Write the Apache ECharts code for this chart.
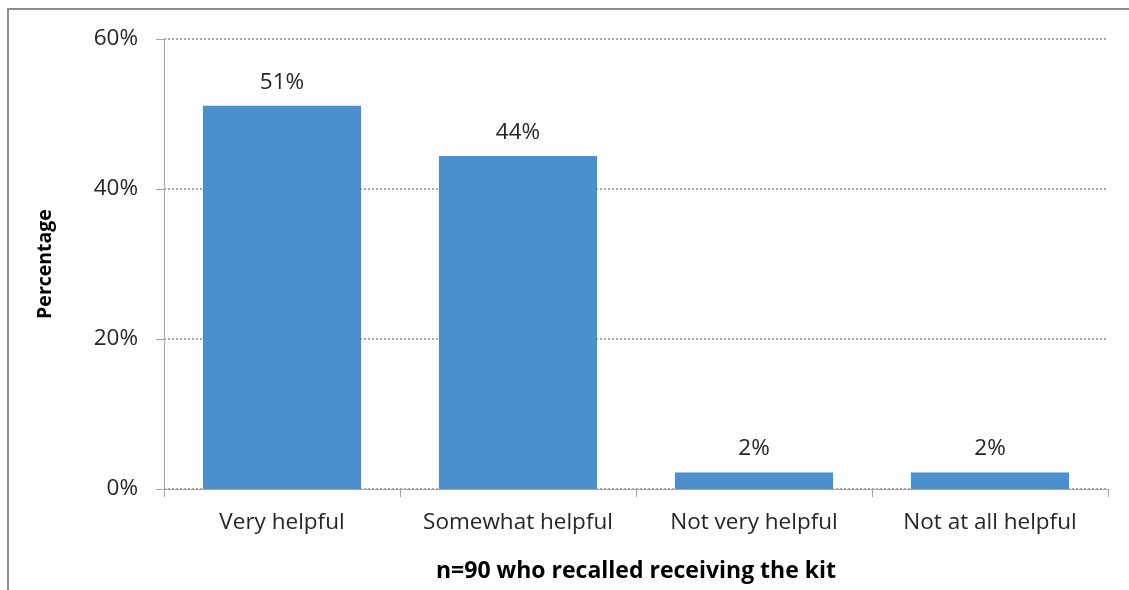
<!DOCTYPE html>
<html>
<head>
<meta charset="utf-8">
<script src="https://cdn.jsdelivr.net/npm/echarts@6/dist/echarts.min.js"></script>
<style>
  html, body { margin: 0; padding: 0; background: #fff; overflow: hidden; }
  #chart { width: 1129px; height: 590px; }
</style>
</head>
<body>
<div id="chart"></div>
<script>
// Ratings of the kit's helpfulness (percent of respondents)
const categories = ['Very helpful', 'Somewhat helpful', 'Not very helpful', 'Not at all helpful'];
const percentages = [51.1, 44.4, 2.2, 2.2];
const yTicks = { min: 0, max: 60, step: 20 };
const xAxisTitle = 'n=90 who recalled receiving the kit';
const yAxisTitle = 'Percentage';

const FONT = '"Open Sans", "Noto Sans", sans-serif';
const AXIS_GRAY = '#a6a6a6';
const TEXT = '#262626';

const chart = echarts.init(document.getElementById('chart'), null, { renderer: 'canvas' });

chart.setOption({
  animation: false,
  backgroundColor: '#ffffff',
  textStyle: { fontFamily: FONT },
  graphic: [{
    type: 'rect',
    shape: { x: 8, y: 9, width: 1140, height: 600 },
    style: { fill: 'none', stroke: '#8f8f8f', lineWidth: 2 },
    silent: true
  }],
  grid: { left: 164, right: 21, top: 39, bottom: 101, outerBoundsMode: 'none', containLabel: false },
  xAxis: {
    type: 'category',
    data: categories,
    boundaryGap: true,
    axisLine: { show: true, lineStyle: { color: AXIS_GRAY, width: 1 } },
    axisTick: { show: true, interval: 0, length: 8, alignWithLabel: false, lineStyle: { color: AXIS_GRAY } },
    axisLabel: { color: TEXT, fontSize: 22.5, fontFamily: FONT, margin: 22, interval: 0, hideOverlap: false },
    name: xAxisTitle,
    nameLocation: 'middle',
    nameGap: 71,
    nameTextStyle: { color: '#000', fontSize: 23, fontWeight: 'bold', fontFamily: FONT }
  },
  yAxis: {
    type: 'value',
    min: yTicks.min,
    max: yTicks.max,
    interval: yTicks.step,
    axisLine: { show: true, lineStyle: { color: AXIS_GRAY, width: 1 } },
    axisTick: { show: true, inside: false, length: 8, lineStyle: { color: AXIS_GRAY } },
    axisLabel: { color: TEXT, fontSize: 22.5, fontFamily: FONT, margin: 26, formatter: '{value}%' },
    splitLine: { show: true, lineStyle: { color: '#8c8c8c', type: [2, 2], width: 1.5 } },
    name: yAxisTitle,
    nameLocation: 'middle',
    nameGap: 109,
    nameRotate: 90,
    nameTextStyle: { color: '#000', fontSize: 19.5, fontWeight: 'bold', fontFamily: FONT }
  },
  series: [{
    type: 'bar',
    data: percentages,
    barCategoryGap: '33%',
    itemStyle: { color: '#4a8fce' },
    label: {
      show: true,
      position: 'top',
      distance: 12,
      color: TEXT,
      fontSize: 22.5,
      fontFamily: FONT,
      formatter: p => Math.round(p.value) + '%'
    }
  }]
});
</script>
</body>
</html>
